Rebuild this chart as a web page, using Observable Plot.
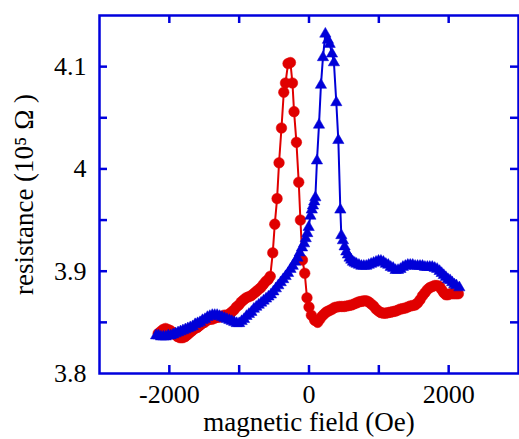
<!DOCTYPE html>
<html>
<head>
<meta charset="utf-8">
<script src="https://cdn.jsdelivr.net/npm/d3@7"></script>
<script src="https://cdn.jsdelivr.net/npm/@observablehq/plot@0.6"></script>
<style>
  html, body { margin: 0; padding: 0; background: white; }
  svg text { font-family: "Liberation Serif", "Times New Roman", serif !important; }
</style>
</head>
<body>
<div id="chart"></div>
<script>
// Red series (circles)
const fieldRed = [-2160,-2125,-2090,-2055,-2020,-1985,-1950,-1915,-1880,-1845,-1810,-1775,-1740,-1705,-1670,-1635,-1600,-1565,-1530,-1495,-1460,-1425,-1390,-1355,-1320,-1285,-1250,-1215,-1180,-1145,-1110,-1075,-1040,-1005,-970,-935,-900,-865,-830,-795,-760,-725,-690,-655,-620,-585,-555,-519,-490,-457,-429,-394,-361,-337,-300,-266,-237,-214,-180,-147,-123,-94,-61,-29,0,34,81,124,155,185,215,245,275,305,335,365,400,435,470,505,540,575,610,645,680,715,750,785,820,855,890,925,960,995,1030,1065,1100,1135,1170,1205,1240,1275,1310,1345,1380,1415,1450,1485,1520,1555,1590,1625,1660,1695,1730,1765,1800,1835,1870,1900,1930,1960,1990,2020,2050,2080,2110,2139];
const resRed = [3.839,3.841,3.843,3.844,3.843,3.842,3.840,3.838,3.836,3.835,3.835,3.836,3.838,3.840,3.842,3.844,3.845,3.847,3.849,3.850,3.852,3.853,3.853,3.854,3.855,3.855,3.856,3.857,3.857,3.858,3.860,3.862,3.865,3.867,3.870,3.872,3.874,3.875,3.876,3.878,3.880,3.882,3.884,3.887,3.890,3.892,3.895,3.918,3.946,3.971,4.006,4.040,4.075,4.084,4.103,4.104,4.084,4.056,4.026,3.987,3.950,3.911,3.898,3.874,3.865,3.857,3.852,3.850,3.853,3.856,3.858,3.860,3.861,3.862,3.863,3.8645,3.865,3.8655,3.8655,3.8655,3.866,3.8665,3.867,3.868,3.869,3.870,3.8705,3.871,3.871,3.870,3.868,3.866,3.863,3.861,3.8595,3.859,3.859,3.8595,3.860,3.8605,3.861,3.862,3.863,3.8635,3.864,3.865,3.866,3.8665,3.867,3.869,3.872,3.876,3.879,3.882,3.884,3.885,3.886,3.886,3.885,3.882,3.879,3.877,3.877,3.878,3.878,3.878,3.878,3.878];

// Blue series (triangles)
const fieldBlue = [-2190,-2155,-2120,-2085,-2050,-2015,-1980,-1945,-1910,-1875,-1840,-1805,-1770,-1735,-1700,-1665,-1630,-1595,-1560,-1525,-1490,-1455,-1420,-1385,-1350,-1315,-1280,-1245,-1210,-1175,-1140,-1105,-1070,-1035,-1000,-965,-930,-895,-860,-825,-790,-755,-720,-685,-650,-615,-580,-545,-510,-475,-440,-405,-370,-335,-300,-265,-233,-200,-165,-133,-100,-70,-47,-25,-5,20,40,57,75,91,114,143,171,200,234,271,296,329,357,391,420,449,463,486,510,534,557,581,605,629,655,681,715,750,785,820,855,890,925,960,995,1030,1065,1100,1135,1170,1205,1240,1275,1310,1345,1380,1415,1450,1485,1520,1555,1590,1625,1660,1695,1730,1765,1800,1835,1870,1900,1930,1960,1990,2020,2050,2080,2110,2153];
const resBlue = [3.837,3.837,3.836,3.836,3.836,3.837,3.837,3.838,3.839,3.840,3.841,3.842,3.843,3.844,3.845,3.846,3.848,3.849,3.850,3.852,3.853,3.855,3.856,3.857,3.857,3.857,3.856,3.855,3.854,3.853,3.852,3.851,3.850,3.849,3.849,3.851,3.853,3.856,3.858,3.860,3.863,3.865,3.867,3.869,3.871,3.873,3.875,3.877,3.880,3.883,3.886,3.889,3.892,3.895,3.898,3.902,3.905,3.909,3.913,3.918,3.923,3.927,3.932,3.937,3.943,3.954,3.960,3.964,3.968,3.972,4.008,4.043,4.082,4.109,4.132,4.126,4.122,4.1125,4.104,4.065,4.028,3.960,3.935,3.930,3.924,3.919,3.916,3.913,3.911,3.909,3.908,3.907,3.906,3.905,3.905,3.905,3.906,3.907,3.908,3.909,3.910,3.910,3.909,3.907,3.906,3.904,3.903,3.901,3.901,3.902,3.904,3.905,3.906,3.906,3.906,3.905,3.905,3.905,3.905,3.904,3.904,3.904,3.904,3.903,3.902,3.900,3.898,3.896,3.894,3.892,3.891,3.889,3.887,3.886,3.884];

// Ticks and labels
const xTicks = [-2000, -1000, 0, 1000, 2000];
const yTicks = [3.85, 3.9, 3.95, 4, 4.05, 4.1];
const xTickLabels = [-2000, 0, 2000];
const yTickLabels = [3.8, 3.9, 4, 4.1];
const xTitle = "magnetic field (Oe)";
const yTitle = "resistance (10\u2075 \u03A9 )";

const red = fieldRed.map((f, i) => ({field: f, res: resRed[i]}));
const blue = fieldBlue.map((f, i) => ({field: f, res: resBlue[i]}));

const W = 519, H = 439;
const mL = 99, mR = 1, mT = 15, mB = 66;
const iw = W - mL - mR, ih = H - mT - mB;
const frameColor = "#0000dd";
const redColor = "#e00000";
const blueColor = "#0000d8";
const font = "Liberation Serif";

const chart = Plot.plot({
  width: W,
  height: H,
  marginLeft: mL,
  marginRight: mR,
  marginTop: mT,
  marginBottom: mB,
  x: {domain: [-3000, 3000]},
  y: {domain: [3.8, 4.15]},
  style: {fontFamily: font, background: "white", color: "black"},
  marks: [
    Plot.line(red, {x: "field", y: "res", stroke: redColor, strokeWidth: 2}),
    Plot.dot(red, {x: "field", y: "res", r: 5.3, fill: redColor, stroke: redColor, strokeWidth: 0.5}),
    Plot.line(blue, {x: "field", y: "res", stroke: blueColor, strokeWidth: 2}),
    Plot.dot(blue, {x: "field", y: "res", r: 4.2, symbol: "triangle", fill: blueColor, stroke: blueColor, strokeWidth: 0.5}),
    Plot.tickX(xTicks, {x: d => d, insetTop: ih - 8, stroke: frameColor, strokeWidth: 2.5}),
    Plot.tickX(xTicks, {x: d => d, insetBottom: ih - 8, stroke: frameColor, strokeWidth: 2.5}),
    Plot.tickY(yTicks, {y: d => d, insetRight: iw - 8, stroke: frameColor, strokeWidth: 2.5}),
    Plot.tickY(yTicks, {y: d => d, insetLeft: iw - 8, stroke: frameColor, strokeWidth: 2.5}),
    Plot.frame({stroke: frameColor, strokeWidth: 2.5}),
    Plot.axisX(xTickLabels, {anchor: "bottom", tickSize: 0, tickPadding: 11.5, fontSize: 26, fontFamily: font, tickFormat: d => String(d), label: null, fill: "black"}),
    Plot.axisY(yTickLabels, {anchor: "left", tickSize: 0, tickPadding: 13, fontSize: 26, fontFamily: font, tickFormat: d => String(d), label: null, fill: "black"}),
    Plot.text([xTitle], {text: d => d, frameAnchor: "bottom", lineAnchor: "middle", textAnchor: "middle", dy: 49, fontSize: 27, fontFamily: font, fill: "black"}),
    Plot.text([yTitle], {text: d => d, frameAnchor: "left", lineAnchor: "middle", textAnchor: "middle", rotate: -90, dx: -75, fontSize: 27, fontFamily: font, fill: "black"})
  ]
});
document.getElementById("chart").appendChild(chart);
</script>
</body>
</html>
